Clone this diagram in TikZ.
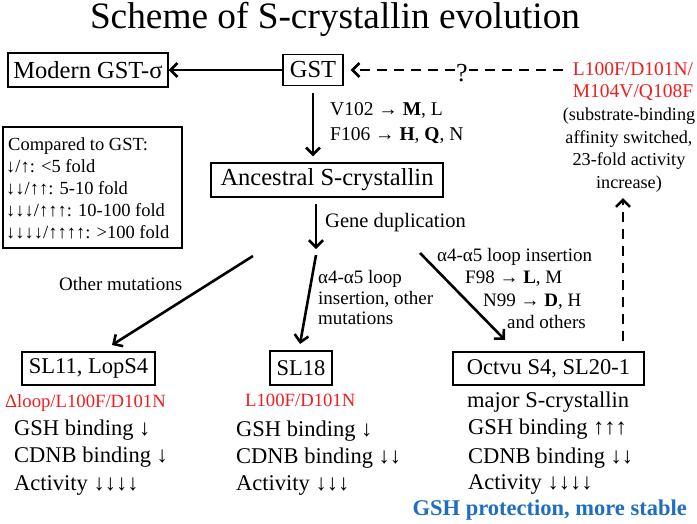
\documentclass[tikz,border=0pt]{standalone}
\usepackage{fontspec}
\setmainfont{Liberation Serif}
\usetikzlibrary{arrows.meta}
\definecolor{myred}{RGB}{240,30,30}
\definecolor{myblue}{RGB}{30,110,195}
\newcommand{\fsz}[1]{\fontsize{#1}{#1}\selectfont}
\begin{document}
\begin{tikzpicture}[x=1pt,y=-1pt,
  box/.style={draw, line width=1.3pt, inner sep=0pt},
  arr/.style={line width=2.6pt, -{Straight Barb[length=7pt,width=14pt]}},
  dsh/.style={dash pattern=on 10pt off 7pt},
  txt/.style={anchor=base west, inner sep=0pt},
  ctxt/.style={anchor=base, inner sep=0pt},
  lab/.style={font=\fsz{19}},
  big/.style={font=\fsz{22.5}}]
\useasboundingbox (0,0) rectangle (697,523);

\node[ctxt, font=\fsz{37.3}] (title) at (335,28) {Scheme of S-crystallin evolution};

% top row
\node[box, minimum width=160pt, minimum height=34pt, font=\fsz{24.5}] (modern) at (88,70) {Modern GST-σ};
\node[box, minimum width=60pt, minimum height=31pt, font=\fsz{24.5}] (gst) at (313,70) {GST};
\draw[arr] (gst.west) -- (modern.east);

\node[inner sep=1pt, font=\fsz{26}] (q) at (462,73) {?};
\coordinate (dstart) at (563,70);
\draw[line width=2.6pt, dsh] (dstart) -- (dstart -| q.east);
\draw[arr, dsh] (dstart -| q.west) -- ([xshift=7pt]gst.east);

\node[ctxt, font=\fsz{19.5}, text=myred] (r1) at (633,75) {L100F/D101N/};
\node[ctxt, font=\fsz{19.5}, text=myred] (r2) at (633,97) {M104V/Q108F};
\node[ctxt, font=\fsz{18.2}] (s1) at (629,120) {(substrate-binding};
\node[ctxt, font=\fsz{18.2}] (s2) at (629,143) {affinity switched,};
\node[ctxt, font=\fsz{18.2}] (s3) at (629,165) {23-fold activity};
\node[ctxt, font=\fsz{18.2}] (s4) at (629,188) {increase)};

% ancestral
\node[box, minimum width=232pt, minimum height=34pt, font=\fsz{24.5}] (anc) at (327,180) {Ancestral S-crystallin};
\draw[arr, shorten <=7pt, shorten >=6pt] (gst.south) -- (gst.south |- anc.north);
\node[txt, font=\fsz{19.5}] (m1) at (330,115) {V102 → \textbf{M}, L};
\node[txt, font=\fsz{19.5}] (m2) at (330,140) {F106 → \textbf{H}, \textbf{Q}, N};

% legend
\node[box, minimum width=179pt, minimum height=121pt] (legend) at (92.5,187.5) {};
\node[txt, font=\fsz{18.5}] (l0) at (8,150) {Compared to GST:};
\node[txt, font=\fsz{18.5}] (l1) at (6,172) {↓/↑: <5 fold};
\node[txt, font=\fsz{18.5}] (l2) at (6,194) {↓↓/↑↑: 5-10 fold};
\node[txt, font=\fsz{18.5}] (l3) at (6,216) {↓↓↓/↑↑↑: 10-100 fold};
\node[txt, font=\fsz{18.5}] (l4) at (6,238) {↓↓↓↓/↑↑↑↑: >100 fold};

% gene duplication
\coordinate (dup) at (316,249);
\draw[arr, shorten <=6pt] (anc.south -| dup) -- (dup);
\node[txt, font=\fsz{20.5}] (gd) at (325,227) {Gene duplication};

% branches
\coordinate (b1) at (253,256); \coordinate (t1) at (112,345);
\coordinate (b2) at (316,255); \coordinate (t2) at (300,344);
\coordinate (b3) at (420,253); \coordinate (t3) at (505,340);
\draw[arr] (b1) -- (t1);
\draw[arr] (b2) -- (t2);
\draw[arr] (b3) -- (t3);

\node[txt, lab] (om) at (59,290) {Other mutations};
\node[txt, lab] (c1) at (318,283) {α4-α5 loop};
\node[txt, lab] (c2) at (318,304) {insertion, other};
\node[txt, lab] (c3) at (318,324) {mutations};

\node[txt, lab] (d1) at (437,261) {α4-α5 loop insertion};
\node[txt, lab] (d2) at (465,283) {F98 → \textbf{L}, M};
\node[txt, lab] (d3) at (483,306) {N99 → \textbf{D}, H};
\node[txt, lab] (d4) at (507,328) {and others};

% vertical dashed
\coordinate (v0) at (623,341); \coordinate (v1) at (623,198);
\draw[arr, dsh] (v0) -- (v1);

% bottom boxes
\node[box, minimum width=133pt, minimum height=33pt, big] (sl11) at (88.5,368.5) {SL11, LopS4};
\node[box, minimum width=62pt, minimum height=34pt, big] (sl18) at (301,368) {SL18};
\node[box, minimum width=191pt, minimum height=33pt, big] (oct) at (548.5,368.5) {Octvu S4, SL20-1};

\node[txt, font=\fsz{18.7}, text=myred] (e1) at (5,407) {Δloop/L100F/D101N};
\node[txt, big] (e2) at (14,435) {GSH binding ↓};
\node[txt, big] (e3) at (14,462.5) {CDNB binding ↓};
\node[txt, big] (e4) at (14,490) {Activity ↓↓↓↓};

\node[txt, font=\fsz{18.7}, text=myred] (f1) at (245,406) {L100F/D101N};
\node[txt, big] (f2) at (236,436) {GSH binding ↓};
\node[txt, big] (f3) at (236,463) {CDNB binding ↓↓};
\node[txt, big] (f4) at (236,490) {Activity ↓↓↓};

\node[txt, big] (g1) at (467,407) {major S-crystallin};
\node[txt, big] (g2) at (468,434) {GSH binding ↑↑↑};
\node[txt, big] (g3) at (468,463) {CDNB binding ↓↓};
\node[txt, big] (g4) at (468,489) {Activity ↓↓↓↓};
\node[anchor=base east, inner sep=0pt, big, text=myblue] (g5) at (687,515) {\textbf{GSH protection, more stable}};
\end{tikzpicture}
\end{document}
